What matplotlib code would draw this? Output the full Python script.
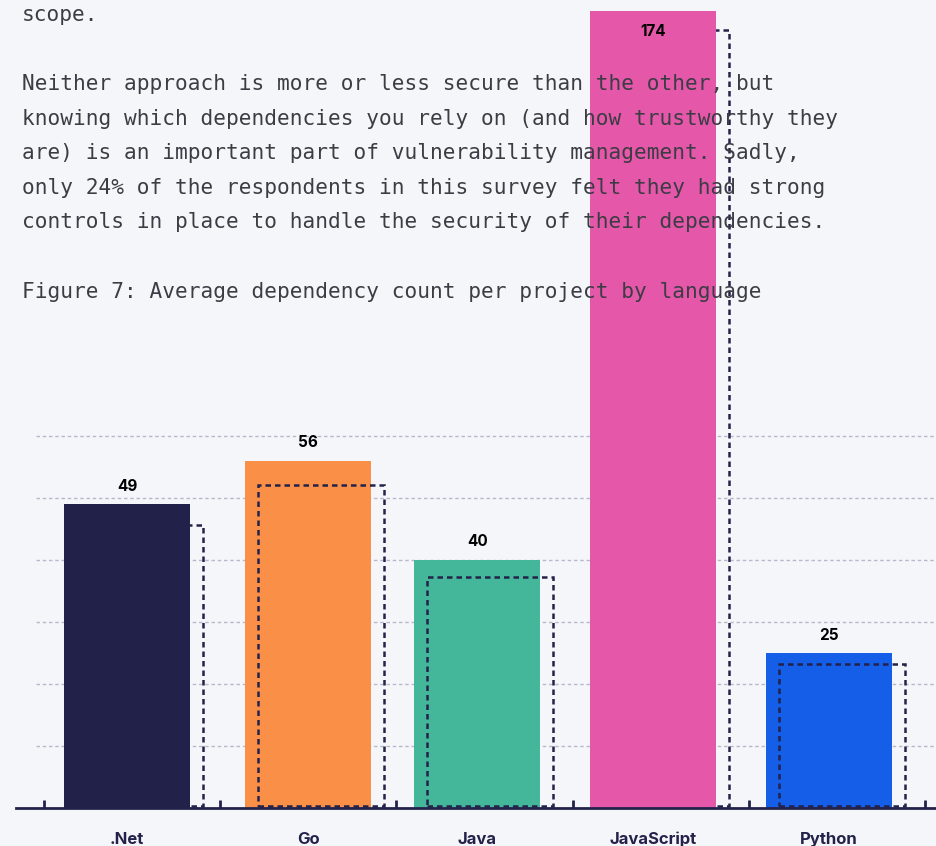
import numpy as np
import matplotlib
matplotlib.use('Agg')
import matplotlib.pyplot as plt
from matplotlib.patches import Rectangle

# datos del grafico.
LANGS = ['.Net', 'Go', 'Java', 'JavaScript', 'Python']
DEPS = [49, 56, 40, 174, 25]
COLORS = ['#22214a', '#fa9048', '#44b79a', '#e457a9', '#155ee8']
GRID_Y = [10, 20, 30, 40, 50, 60]

TEXT_LINES = [
    'scope.',
    '',
    'Neither approach is more or less secure than the other, but',
    'knowing which dependencies you rely on (and how trustworthy they',
    'are) is an important part of vulnerability management. Sadly,',
    'only 24% of the respondents in this survey felt they had strong',
    'controls in place to handle the security of their dependencies.',
    '',
    'Figure 7: Average dependency count per project by language',
]

BG = '#f5f6fa'
NAVY = '#22224a'

W, H = 937, 846
fig = plt.figure(figsize=(W/100, H/100), dpi=100, facecolor=BG)

# eje: de x=16 a x=937 px, de y=0 a y=808 px.
ax = fig.add_axes([16/W, (H-808)/H, (W-16)/W, 808/H])
ax.set_facecolor(BG)

PX = 176.2          # px por categoria
PY = 6.2            # px por unidad
ymax = 808/PY
cap = 797/PY        # techo visual de barras fuera de escala
ax.set_ylim(0, ymax)
ax.set_xlim(-0.5 - 28/PX, 4.5 + 12/PX)

# grilla punteada.
ax.hlines(GRID_Y, -0.5 - 8/PX, 4.5 + 12/PX, colors='#b8b8cc', lw=1.0,
          linestyles=(0, (2.5, 2)), zorder=0)

bw = 126/PX
off = 13/PX
shift = [-5, 0, -7, -8, -8]
for i, (lang, v, c) in enumerate(zip(LANGS, DEPS, COLORS)):
    cx = i + shift[i]/PX
    h = min(v, cap)
    ax.bar(cx, h, width=bw, color=c, zorder=2)
    # sombra punteada desplazada.
    hs = min(v*0.93, cap - 3)
    ax.add_patch(Rectangle((cx - bw/2 + off, 0.3), bw, hs - 0.3, fill=False,
                           ec=NAVY, lw=1.8, ls=(0, (2.2, 1.6)),
                           zorder=1 if v > cap else 3))
    if v > cap:
        ax.text(cx, h - 20/PY, str(v), ha='center', va='center', fontsize=11,
                fontweight='bold', family='Inter', color='black', zorder=6)
    else:
        ax.text(cx, h + 18/PY, str(v), ha='center', va='center', fontsize=11,
                fontweight='bold', family='Inter', color='black', zorder=6)

# ejes y ticks.
for s in ['top', 'right', 'left']:
    ax.spines[s].set_visible(False)
ax.spines['bottom'].set_color(NAVY)
ax.spines['bottom'].set_linewidth(2)
ax.spines['bottom'].set_zorder(4)
ax.set_yticks([])
ax.set_xticks(np.arange(-0.5, 5, 1))
ax.set_xticklabels([])
ax.tick_params(axis='x', which='major', direction='in', length=6, width=2, color=NAVY)
ax.set_xticks([i + shift[i]/PX for i in range(len(LANGS))], minor=True)
ax.set_xticklabels(LANGS, minor=True, fontsize=12, fontweight='bold',
                   family='Inter', color=NAVY)
ax.tick_params(axis='x', which='minor', length=0, pad=17)

# texto del articulo.
for k, line in enumerate(TEXT_LINES):
    yy = 84 + (k-2)*34.6 if k >= 2 else 15
    if line:
        fig.text(22/W, 1 - yy/H, line, ha='left', va='center', fontsize=15.2,
                 family='DejaVu Sans Mono', color='#3c3c44', zorder=10)

fig.savefig('out.png', dpi=100, facecolor=BG)
